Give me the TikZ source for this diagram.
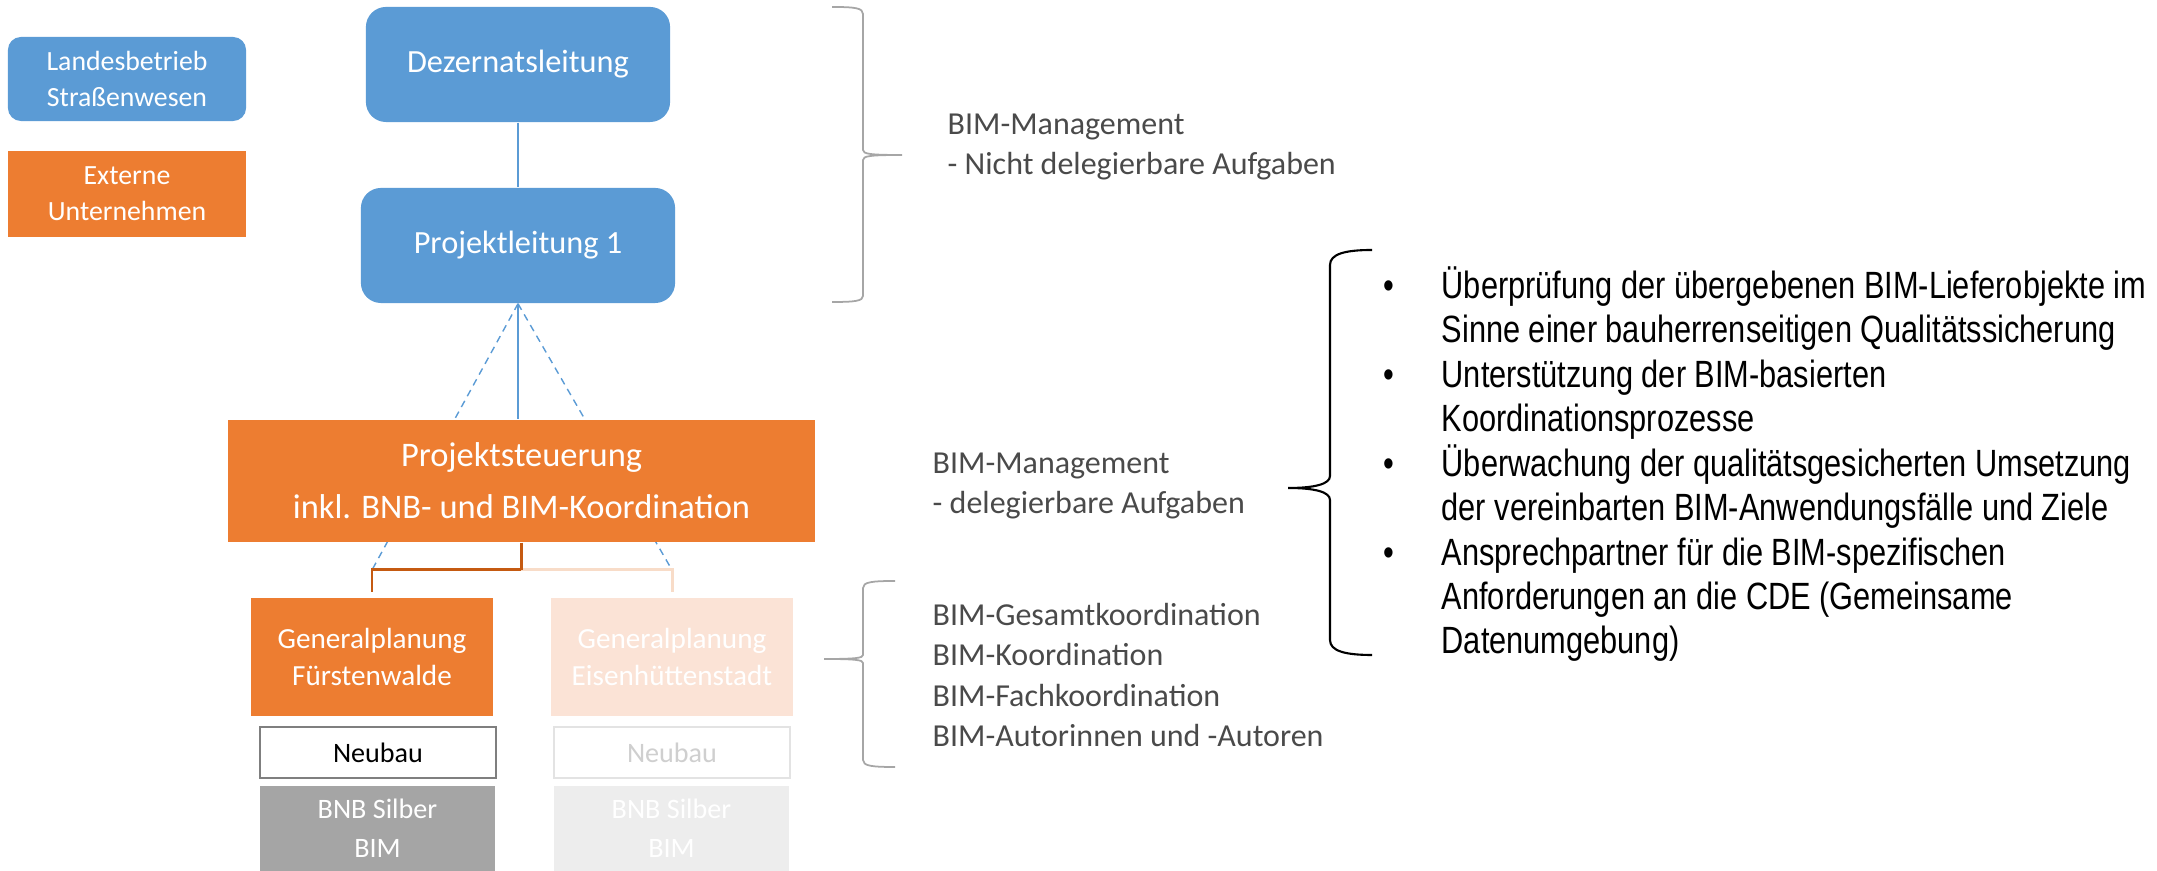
\documentclass[tikz,border=0pt]{standalone}
\usepackage{fontspec}
\setmainfont{Carlito}
\newfontfamily\listfont[FakeStretch=0.81]{Liberation Sans}

\definecolor{lsblue}{HTML}{5B9BD5}
\definecolor{extorange}{HTML}{ED7D31}
\definecolor{paleorange}{HTML}{FBE3D6}
\definecolor{darkconn}{HTML}{C55A11}
\definecolor{paleconn}{HTML}{F8DCC8}
\definecolor{framegray}{HTML}{7F7F7F}
\definecolor{paleframe}{HTML}{E3E3E3}
\definecolor{paletext}{HTML}{CFCFCF}
\definecolor{bnbgray}{HTML}{A5A5A5}
\definecolor{palegray}{HTML}{EDEDED}
\definecolor{notegray}{HTML}{4A4A4A}
\definecolor{bracegray}{HTML}{A6A6A6}

\tikzset{
  box/.style={inner sep=0pt, align=center, text=white},
  bluebox/.style={box, fill=lsblue, rounded corners=0.2cm},
  orangebox/.style={box, fill=extorange},
  paleobox/.style={box, fill=paleorange},
  buildbox/.style={box, draw=framegray, line width=0.5pt, fill=white, text=black},
  palebuild/.style={box, draw=paleframe, line width=0.5pt, fill=white, text=paletext},
  note/.style={align=left, inner sep=0pt, text=notegray, font=\fontsize{9.1}{11.4}\selectfont},
}

\begin{document}
\begin{tikzpicture}[x=0.01cm, y=-0.01cm]
\useasboundingbox (0,0) rectangle (2157,871);

% Legend
\node[bluebox, rounded corners=0.13cm, minimum width=2.38cm, minimum height=0.84cm,
  font=\fontsize{7.9}{10.2}\selectfont] (landes) at (127,79) {Landesbetrieb\\Straßenwesen};
\node[orangebox, minimum width=2.38cm, minimum height=0.86cm,
  font=\fontsize{7.9}{10.2}\selectfont] (extern) at (127,194) {Externe\\Unternehmen};

% Leitung
\node[bluebox, minimum width=3.04cm, minimum height=1.15cm,
  font=\fontsize{9.2}{11}\selectfont] (dezernat) at (518,64.5) {Dezernatsleitung};
\node[bluebox, minimum width=3.14cm, minimum height=1.15cm,
  font=\fontsize{9.2}{11}\selectfont] (projleit) at (518,245.5) {Projektleitung 1};

% Generalplanung
\node[orangebox, minimum width=2.42cm, minimum height=1.18cm,
  font=\fontsize{8.3}{10.5}\selectfont] (gpf) at (372,657) {Generalplanung\\Fürstenwalde};
\node[paleobox, minimum width=2.42cm, minimum height=1.18cm,
  font=\fontsize{8.3}{10.5}\selectfont] (gpe) at (672,657) {Generalplanung\\Eisenhüttenstadt};

\node[buildbox, minimum width=2.36cm, minimum height=0.51cm, font=\fontsize{8}{10}\selectfont] (neuf) at (378,752.5) {Neubau};
\node[palebuild, minimum width=2.36cm, minimum height=0.51cm, font=\fontsize{8}{10}\selectfont] (neue) at (672,752.5) {Neubau};

\node[box, fill=bnbgray, minimum width=2.35cm, minimum height=0.85cm,
  font=\fontsize{8}{11}\selectfont] (bnbf) at (377.5,828.5) {BNB Silber\\BIM};
\node[box, fill=palegray, minimum width=2.35cm, minimum height=0.85cm,
  font=\fontsize{8}{11}\selectfont] (bnbe) at (671.5,828.5) {BNB Silber\\BIM};

% Dashed lines (behind Projektsteuerung)
\coordinate (bar) at (521,570);
\draw[lsblue, line width=0.4pt, dash pattern=on 2pt off 1.5pt] (projleit.south) -- (gpf.north |- bar);
\draw[lsblue, line width=0.4pt, dash pattern=on 2pt off 1.5pt] (projleit.south) -- (gpe.north |- bar);

% Projektsteuerung
\node[orangebox, minimum width=5.87cm, minimum height=1.22cm,
  font=\fontsize{9.8}{14.8}\selectfont] (steuerung) at (521.5,481) {Projektsteuerung\\inkl. BNB- und BIM-Koordination};

% Connectors
\draw[lsblue, line width=0.6pt] (dezernat) -- (projleit);
\draw[lsblue, line width=0.6pt] (projleit.south) -- (projleit.south |- steuerung.north);
\draw[paleconn, line width=0.85pt, shorten >=0.05cm] (bar) -| (gpe.north);
\draw[darkconn, line width=0.85pt, shorten >=0.05cm] (bar) -| (gpf.north);
\draw[darkconn, line width=0.85pt] (steuerung.south -| bar) -- (bar);

% Braces
\draw[bracegray, line width=0.5pt] (832,7) .. controls (855,7) and (863,8) .. (863,14) -- (863,150)
  .. controls (863,154) and (870,155) .. (902,155) .. controls (870,155) and (863,156) .. (863,160)
  -- (863,296) .. controls (863,301) and (855,302) .. (832,302);
\draw[bracegray, line width=0.5pt] (895,581) .. controls (872,581) and (863,582) .. (863,588) -- (863,655)
  .. controls (863,658) and (856,659) .. (824,659) .. controls (856,659) and (863,660) .. (863,663)
  -- (863,760) .. controls (863,766) and (872,767) .. (895,767);
\draw[black, line width=0.6pt] (1372,250) .. controls (1345,250) and (1330,254) .. (1330,265) -- (1330,476)
  .. controls (1330,484) and (1315,488) .. (1288,488) .. controls (1315,488) and (1330,492) .. (1330,500)
  -- (1330,640) .. controls (1330,651) and (1345,655) .. (1372,655);

% Text
\node[note, anchor=west] (mgmtA) at (947,147) {BIM-Management\\- Nicht delegierbare Aufgaben};
\node[note, anchor=west] (mgmtB) at (932,486) {BIM-Management\\- delegierbare Aufgaben};
\node[note, anchor=west] (roles) at (932,675) {BIM-Gesamtkoordination\\BIM-Koordination\\BIM-Fachkoordination\\BIM-Autorinnen und -Autoren};

\node[inner sep=0pt, anchor=west, font={\listfont\fontsize{10.8}{12.6}\selectfont}] (tasks) at (1383,467) {%
\begin{tabular}{@{}p{0.58cm}@{}l@{}}
\textbullet & Überprüfung der übergebenen BIM-Lieferobjekte im\\
 & Sinne einer bauherrenseitigen Qualitätssicherung\\
\textbullet & Unterstützung der BIM-basierten\\
 & Koordinationsprozesse\\
\textbullet & Überwachung der qualitätsgesicherten Umsetzung\\
 & der vereinbarten BIM-Anwendungsfälle und Ziele\\
\textbullet & Ansprechpartner für die BIM-spezifischen\\
 & Anforderungen an die CDE (Gemeinsame\\
 & Datenumgebung)
\end{tabular}};

\end{tikzpicture}
\end{document}
